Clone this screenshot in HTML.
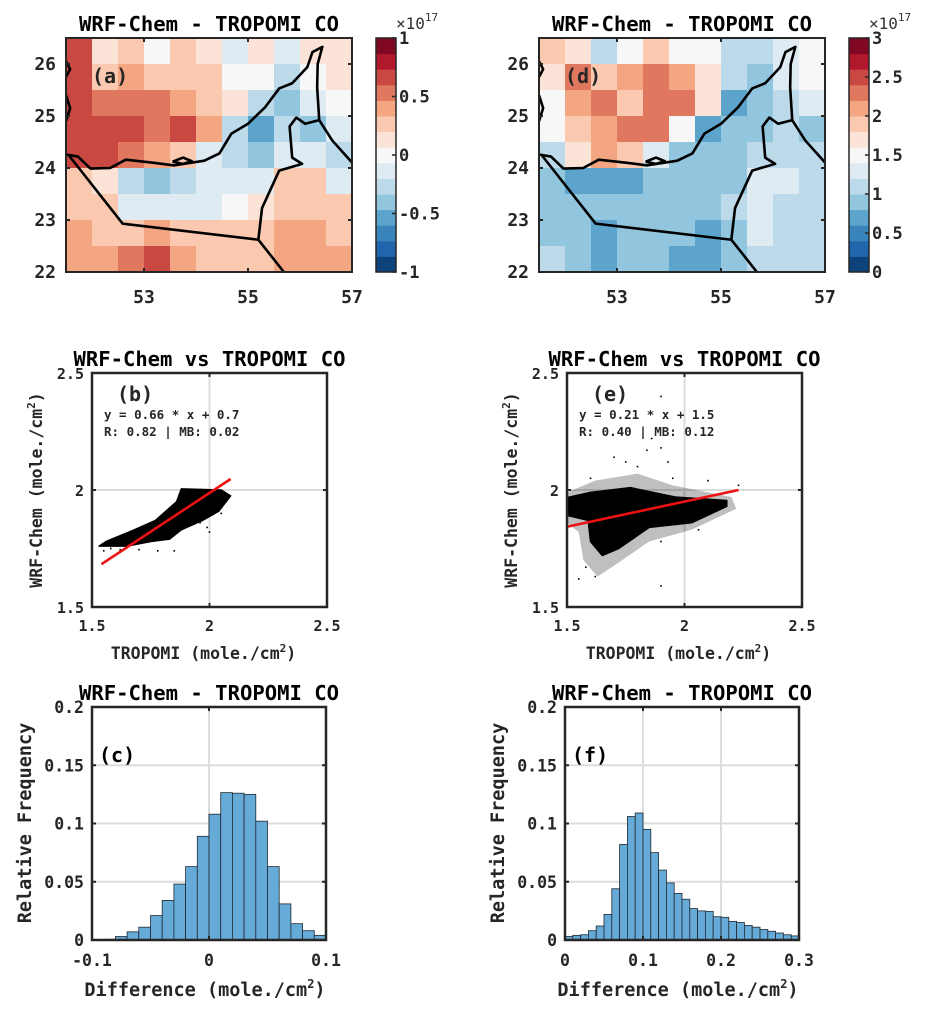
<!DOCTYPE html>
<html><head><meta charset="utf-8"><style>
html,body{margin:0;padding:0;background:#fff;}
svg{display:block;font-family:"DejaVu Sans Mono","Liberation Mono",monospace;font-weight:bold;}
</style></head><body>
<svg id="fig" width="930" height="1010" viewBox="0 0 930 1010" xmlns="http://www.w3.org/2000/svg"></svg>
<script>
// ---------- DATA ----------
const mapLonRange=[51.5,57], mapLatRange=[22,26.5];
const mapXTicks=[53,55,57], mapYTicks=[22,23,24,25,26];
// rows from north (26.5) to south (22), 0.5 deg cells, x1e17
const fieldA=[
[0.6,0.1,0.2,0.0,0.2,0.1,-0.1,0.1,-0.2,0.1,0.1],
[0.7,0.2,0.4,0.3,0.3,0.2,0.0,0.0,-0.3,0.0,0.1],
[0.7,0.5,0.5,0.5,0.4,0.3,0.1,-0.3,-0.4,-0.1,0.0],
[0.7,0.6,0.6,0.5,0.6,0.4,-0.3,-0.5,-0.3,-0.4,-0.1],
[0.6,0.6,0.5,0.4,0.3,-0.2,-0.3,-0.4,-0.2,-0.2,-0.3],
[0.3,0.1,-0.3,-0.4,-0.3,-0.2,-0.2,-0.2,0.2,0.2,-0.2],
[0.3,0.2,-0.1,-0.1,-0.1,-0.1,0.0,0.1,0.3,0.3,0.2],
[0.4,0.3,0.3,0.4,0.3,0.2,0.2,0.2,0.4,0.4,0.3],
[0.4,0.4,0.5,0.6,0.4,0.3,0.3,0.3,0.4,0.4,0.4]];
const fieldD=[
[1.8,1.6,1.2,1.5,1.8,1.5,1.5,1.2,1.0,1.4,1.5],
[1.6,2.2,1.8,2.0,2.4,2.0,1.6,1.2,0.8,1.3,1.5],
[1.5,2.0,2.2,1.9,2.4,2.2,1.7,0.7,0.9,1.2,1.3],
[1.5,1.9,2.1,2.2,2.3,1.5,0.7,0.8,0.9,1.1,0.9],
[1.2,1.6,2.0,1.8,1.4,0.8,0.8,0.8,1.0,1.2,1.1],
[0.8,0.7,0.7,0.7,0.8,0.8,0.8,0.9,1.3,1.3,1.1],
[0.9,0.8,0.8,0.8,0.8,0.8,0.8,1.0,1.4,1.2,1.0],
[0.9,0.8,0.7,0.8,0.8,0.8,0.7,0.9,1.3,1.1,1.0],
[1.0,0.8,0.7,0.8,0.8,0.7,0.7,0.9,1.2,1.1,1.0]];
const cbTicksA=[-1,-0.5,0,0.5,1], cbLabelsA=["-1","-0.5","0","0.5","1"];
const cbTicksD=[0,0.5,1,1.5,2,2.5,3], cbLabelsD=["0","0.5","1","1.5","2","2.5","3"];
const coast=[[51.5,24.26],[51.73,24.22],[51.97,23.99],[52.35,24.0],[52.65,24.16],[53.19,24.1],[53.58,24.05],[54.16,24.14],[54.45,24.28],[54.68,24.66],[55.0,24.85],[55.33,25.17],[55.6,25.53],[55.85,25.63],[56.14,25.94],[56.24,26.23],[56.43,26.33],[56.34,26.0],[56.33,25.55],[56.37,24.92],[56.62,24.53],[57.05,24.05]];
const omanBorder=[[56.37,24.92],[56.1,24.85],[55.93,24.97],[55.8,24.8],[55.85,24.2],[56.04,24.08],[55.6,23.95],[55.27,23.23],[55.2,22.63]];
const saudiBorder=[[51.55,24.25],[52.59,22.93],[55.2,22.62],[55.69,22.0]];
const qatar1=[[51.5,26.05],[51.58,25.9],[51.5,25.75]], qatar2=[[51.5,25.4],[51.58,25.15],[51.5,24.9]];
const island=[[53.55,24.12],[53.75,24.2],[53.92,24.13],[53.75,24.08],[53.55,24.12]];

const scatRange=[1.5,2.5], scatTicks=[1.5,2,2.5], scatTickLabels=["1.5","2","2.5"];
const cloudB=[[1.53,1.76],[1.65,1.76],[1.75,1.78],[1.83,1.79],[1.88,1.83],[1.97,1.87],[2.04,1.91],[2.09,1.975],[2.05,2.0],[1.88,2.005],[1.86,1.95],[1.77,1.87],[1.68,1.83],[1.56,1.78]];
const sparseB=[[1.55,1.74],[1.58,1.75],[1.62,1.745],[1.7,1.745],[1.78,1.74],[1.85,1.74],[2.05,1.9],[1.99,1.84],[2.0,1.82],[1.96,1.86]];
const lineBx=[1.54,2.09], lineBy=[1.683,2.047];
const cloudE=[[1.507,1.969],[1.6,1.99],[1.77,2.01],[1.96,1.97],[2.18,1.955],[2.18,1.93],[2.03,1.86],[1.85,1.84],[1.72,1.75],[1.65,1.72],[1.6,1.78],[1.59,1.87],[1.507,1.89]];
const haloE=[[1.5,1.99],[1.62,2.04],[1.8,2.07],[1.95,2.02],[2.2,1.97],[2.22,1.92],[2.03,1.83],[1.85,1.78],[1.72,1.69],[1.63,1.63],[1.57,1.7],[1.55,1.82],[1.5,1.86]];
const sparseE=[[1.9,2.4],[1.86,2.22],[1.9,2.18],[1.7,2.14],[1.8,2.1],[1.62,1.63],[1.58,1.67],[1.9,1.59],[1.95,2.05],[2.1,2.04],[1.6,2.05],[1.75,2.12],[2.06,1.83],[1.9,1.78],[1.84,2.17],[1.93,2.12],[1.55,1.62],[2.23,2.02]];
const lineEx=[1.5,2.23], lineEy=[1.843,2.0];

const histYTicks=[0,0.05,0.1,0.15,0.2], histYLabels=["0","0.05","0.1","0.15","0.2"];
const histCEdges0=-0.1, histCWidth=0.01;
const histCVals=[0.0003,0.0006,0.003,0.007,0.011,0.021,0.034,0.048,0.063,0.089,0.108,0.1265,0.126,0.125,0.102,0.063,0.031,0.014,0.008,0.004];
const histCXTicks=[-0.1,0,0.1], histCXLabels=["-0.1","0","0.1"];
const histFEdges0=0, histFWidth=0.01;
const histFVals=[0.003,0.004,0.0045,0.008,0.012,0.022,0.044,0.082,0.106,0.109,0.095,0.075,0.060,0.049,0.040,0.035,0.027,0.025,0.0245,0.020,0.0195,0.016,0.015,0.0125,0.011,0.009,0.0075,0.006,0.0045,0.0035];
const histFXTicks=[0,0.1,0.2,0.3], histFXLabels=["0","0.1","0.2","0.3"];

// ---------- HELPERS ----------
const NS="http://www.w3.org/2000/svg", svg=document.getElementById('fig');
function el(tag,attrs,parent){const e=document.createElementNS(NS,tag);for(const k in attrs)e.setAttribute(k,attrs[k]);(parent||svg).appendChild(e);return e;}
function txt(s,attrs,parent){const e=el('text',attrs,parent);e.textContent=s;return e;}
function scale(d0,d1,r0,r1){return v=>r0+(v-d0)/(d1-d0)*(r1-r0);}
const rdbu=["#053061","#2166ac","#4393c3","#92c5de","#d1e5f0","#f7f7f7","#fddbc7","#f4a582","#d6604d","#b2182b","#67001f"];
function hex(c){return [1,3,5].map(i=>parseInt(c.substr(i,2),16));}
function cmap(t){const n=15;let b=Math.min(n-1,Math.max(0,Math.floor(t*n)));let u=(b+0.5)/n*10;let i=Math.min(9,Math.floor(u)),f=u-i;const a=hex(rdbu[i]),c=hex(rdbu[i+1]);return 'rgb('+a.map((v,k)=>Math.round(v+(c[k]-v)*f)).join(',')+')';}
const DARK="#262626";

// ---------- MAPS ----------
function drawMap(ox,field,vmin,vmax,label,cbTicks,cbLabels,id){
  const x0=ox,x1=ox+286,y0=38,y1=272;
  const g=el('g',{});
  
  
  const sx=scale(mapLonRange[0],mapLonRange[1],x0,x1), sy=scale(mapLatRange[0],mapLatRange[1],y1,y0);
  const clipId='clip'+id;
  const cp=el('clipPath',{id:clipId},g);el('rect',{x:x0,y:y0,width:x1-x0,height:y1-y0},cp);
  const cells=el('g',{'clip-path':'url(#'+clipId+')'},g);
  field.forEach((row,r)=>row.forEach((v,c)=>{
    const lon=mapLonRange[0]+c*0.5, lat=mapLatRange[1]-r*0.5;
    const rc=el('rect',{x:sx(lon),y:sy(lat),width:sx(lon+0.5)-sx(lon)+0.6,height:sy(lat-0.5)-sy(lat)+0.6,fill:cmap((v-vmin)/(vmax-vmin))},cells);
    
    
  }));
  [coast,omanBorder,saudiBorder,qatar1,qatar2,island].forEach(line=>{
    const p=el('polyline',{points:line.map(q=>sx(q[0])+','+sy(q[1])).join(' '),fill:'none',stroke:'#000','stroke-width':2.6,'stroke-linejoin':'round'},cells);
    
    
  });
  el('rect',{x:x0,y:y0,width:x1-x0,height:y1-y0,fill:'none',stroke:DARK,'stroke-width':2},g);
  mapXTicks.forEach(t=>{const X=sx(t);el('line',{x1:X,x2:X,y1:y1,y2:y1-4,stroke:DARK,'stroke-width':2},g);el('line',{x1:X,x2:X,y1:y0,y2:y0+4,stroke:DARK,'stroke-width':2},g);
    const tl=txt(String(t),{x:X,y:303,'font-size':18,'text-anchor':'middle',fill:DARK},g);});
  mapYTicks.forEach(t=>{const Y=sy(t);el('line',{x1:x0,x2:x0+4,y1:Y,y2:Y,stroke:DARK,'stroke-width':2},g);el('line',{x1:x1,x2:x1-4,y1:Y,y2:Y,stroke:DARK,'stroke-width':2},g);
    const tl=txt(String(t),{x:x0-10,y:Y+6,'font-size':18,'text-anchor':'end',fill:DARK},g);});
  const ti=txt('WRF-Chem - TROPOMI CO',{x:(x0+x1)/2,y:31,'font-size':20,'text-anchor':'middle',textLength:260,lengthAdjust:'spacingAndGlyphs',fill:'#000'},g);
  
  const pl=txt(label,{x:x0+26,y:y0+45,'font-size':20,fill:DARK},g);
  // colorbar
  const cx=x1+24,cw=20,cb=el('g',{},g);
  
  const cs=scale(vmin,vmax,y1,y0);
  for(let i=0;i<15;i++){const a=vmin+(vmax-vmin)*i/15,b=vmin+(vmax-vmin)*(i+1)/15;
    el('rect',{x:cx,y:cs(b),width:cw,height:cs(a)-cs(b)+0.5,fill:cmap((i+0.5)/15)},cb);}
  el('rect',{x:cx,y:y0,width:cw,height:y1-y0,fill:'none',stroke:DARK,'stroke-width':1.5},cb);
  cbTicks.forEach((t,i)=>{const Y=cs(t);el('line',{x1:cx+cw,x2:cx+cw-4,y1:Y,y2:Y,stroke:DARK,'stroke-width':1.5},cb);
    const tl=txt(cbLabels[i],{x:cx+cw+3,y:Y+6,'font-size':17,fill:DARK},cb);});
  const ex=txt('×10',{x:cx+20,y:29,'font-size':16,'font-weight':'normal',fill:'#333'},cb);
  el('tspan',{dy:-8,'font-size':11},ex).textContent='17';
  
}
drawMap(66,fieldA,-1,1,'(a)',cbTicksA,cbLabelsA,'a');
drawMap(539,fieldD,0,3,'(d)',cbTicksD,cbLabelsD,'d');

// ---------- SCATTERS ----------
function drawScatter(x0,id,label,eq1,eq2,cloud,halo,sparse,lx,ly){
  const x1=x0+235,y0=373,y1=607;
  const g=el('g',{});
  const sx=scale(scatRange[0],scatRange[1],x0,x1), sy=scale(scatRange[0],scatRange[1],y1,y0);
  el('line',{x1:sx(2),x2:sx(2),y1:y0,y2:y1,stroke:'#dcdcdc','stroke-width':2},g);
  el('line',{x1:x0,x2:x1,y1:sy(2),y2:sy(2),stroke:'#dcdcdc','stroke-width':2},g);
  if(halo){const h=el('polygon',{points:halo.map(q=>sx(q[0])+','+sy(q[1])).join(' '),fill:'#000','fill-opacity':0.25,stroke:'none'},g);}
  const c=el('polygon',{points:cloud.map(q=>sx(q[0])+','+sy(q[1])).join(' '),fill:'#000',stroke:'#000','stroke-width':1.5,'stroke-linejoin':'round'},g);
  
  sparse.forEach(q=>{const d=el('rect',{x:sx(q[0])-0.8,y:sy(q[1])-0.8,width:1.6,height:1.6,fill:'#000'},g);});
  const rl=el('line',{x1:sx(lx[0]),y1:sy(ly[0]),x2:sx(lx[1]),y2:sy(ly[1]),stroke:'#ee1111','stroke-width':2.6},g);
  
  el('rect',{x:x0,y:y0,width:x1-x0,height:y1-y0,fill:'none',stroke:DARK,'stroke-width':2.5},g);
  scatTicks.forEach((t,i)=>{const X=sx(t),Y=sy(t);
    el('line',{x1:X,x2:X,y1:y1,y2:y1-4,stroke:DARK,'stroke-width':2},g);el('line',{x1:X,x2:X,y1:y0,y2:y0+4,stroke:DARK,'stroke-width':2},g);
    el('line',{x1:x0,x2:x0+4,y1:Y,y2:Y,stroke:DARK,'stroke-width':2},g);el('line',{x1:x1,x2:x1-4,y1:Y,y2:Y,stroke:DARK,'stroke-width':2},g);
    const a=txt(scatTickLabels[i],{x:X,y:631,'font-size':15,'text-anchor':'middle',fill:DARK},g);
    const b=txt(scatTickLabels[i],{x:x0-8,y:Y+6,'font-size':15,'text-anchor':'end',fill:DARK},g);});
  const ti=txt('WRF-Chem vs TROPOMI CO',{x:(x0+x1)/2,y:366,'font-size':20,'text-anchor':'middle',textLength:272,lengthAdjust:'spacingAndGlyphs',fill:'#000'},g);
  
  const pl=txt(label,{x:x0+25,y:y0+28,'font-size':20,fill:DARK},g);
  const e1=txt(eq1,{x:x0+12,y:y0+46,'font-size':12.5,fill:DARK},g);
  const e2=txt(eq2,{x:x0+12,y:y0+63,'font-size':12.5,fill:DARK},g);
  const xl=txt('TROPOMI (mole./cm',{x:(x0+x1)/2-6,y:659,'font-size':16.5,'text-anchor':'middle',fill:DARK},g);
  el('tspan',{dy:-7,'font-size':11},xl).textContent='2';el('tspan',{dy:7},xl).textContent=')';
  
  const yl=txt('WRF-Chem (mole./cm',{x:0,y:0,'font-size':16.5,'text-anchor':'middle',fill:DARK,transform:'translate('+(x0-50)+',490) rotate(-90)'},g);
  el('tspan',{dy:-7,'font-size':11},yl).textContent='2';el('tspan',{dy:7},yl).textContent=')';
  
}
drawScatter(92,'b','(b)','y = 0.66 * x + 0.7','R: 0.82 | MB: 0.02',cloudB,null,sparseB,lineBx,lineBy);
drawScatter(567,'e','(e)','y = 0.21 * x + 1.5','R: 0.40 | MB: 0.12',cloudE,haloE,sparseE,lineEx,lineEy);

// ---------- HISTOGRAMS ----------
function drawHist(x0,id,label,edge0,w,vals,xr,xticks,xlabels,xgrid){
  const x1=x0+234,y0=707,y1=940;
  const g=el('g',{});
  const sx=scale(xr[0],xr[1],x0,x1), sy=scale(0,0.2,y1,y0);
  histYTicks.forEach(t=>{if(t>0&&t<0.2)el('line',{x1:x0,x2:x1,y1:sy(t),y2:sy(t),stroke:'#dcdcdc','stroke-width':2},g);});
  xgrid.forEach(t=>el('line',{x1:sx(t),x2:sx(t),y1:y0,y2:y1,stroke:'#dcdcdc','stroke-width':2},g));
  vals.forEach((v,i)=>{const a=edge0+i*w;
    const b=el('rect',{x:sx(a),y:sy(v),width:sx(a+w)-sx(a),height:sy(0)-sy(v),fill:'#66aad7',stroke:'#1f2a33','stroke-width':0.8},g);
    });
  el('rect',{x:x0,y:y0,width:x1-x0,height:y1-y0,fill:'none',stroke:DARK,'stroke-width':2.5},g);
  xticks.forEach((t,i)=>{const X=sx(t);el('line',{x1:X,x2:X,y1:y1,y2:y1-4,stroke:DARK,'stroke-width':2},g);el('line',{x1:X,x2:X,y1:y0,y2:y0+4,stroke:DARK,'stroke-width':2},g);
    const a=txt(xlabels[i],{x:X,y:966,'font-size':16.5,'text-anchor':'middle',fill:DARK},g);});
  histYTicks.forEach((t,i)=>{const Y=sy(t);el('line',{x1:x0,x2:x0+4,y1:Y,y2:Y,stroke:DARK,'stroke-width':2},g);el('line',{x1:x1,x2:x1-4,y1:Y,y2:Y,stroke:DARK,'stroke-width':2},g);
    const a=txt(histYLabels[i],{x:x0-8,y:Y+6,'font-size':16.5,'text-anchor':'end',fill:DARK},g);});
  const ti=txt('WRF-Chem - TROPOMI CO',{x:(x0+x1)/2,y:700,'font-size':20,'text-anchor':'middle',textLength:260,lengthAdjust:'spacingAndGlyphs',fill:'#000'},g);
  
  const pl=txt(label,{x:x0+7,y:762,'font-size':20,fill:'#000'},g);
  const xl=txt('Difference (mole./cm',{x:(x0+x1)/2-4,y:996,'font-size':18.5,'text-anchor':'middle',fill:DARK},g);
  el('tspan',{dy:-8,'font-size':12},xl).textContent='2';el('tspan',{dy:8},xl).textContent=')';
  
  const yl=txt('Relative Frequency',{x:0,y:0,'font-size':18.5,'text-anchor':'middle',fill:DARK,transform:'translate('+(x0-61)+',823) rotate(-90)'},g);
  
}
drawHist(92,'c','(c)',histCEdges0,histCWidth,histCVals,[-0.1,0.1],histCXTicks,histCXLabels,[0]);
drawHist(565,'f','(f)',histFEdges0,histFWidth,histFVals,[0,0.3],histFXTicks,histFXLabels,[0.1,0.2]);
</script>
</body></html>
